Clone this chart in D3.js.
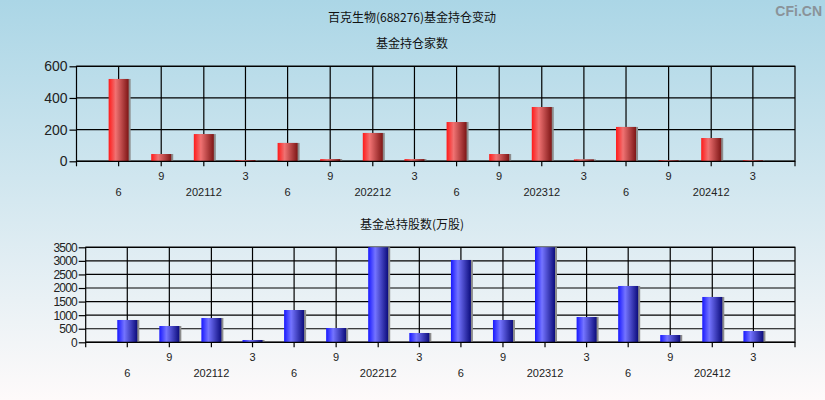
<!DOCTYPE html>
<html>
<head>
<meta charset="utf-8">
<script src="https://cdn.jsdelivr.net/npm/d3@7"></script>
<style>
  body { margin: 0; }
  text { font-family: "Liberation Sans", Arial, sans-serif; fill: #222; }
  .cn { font-family: "Noto Sans CJK SC", sans-serif; fill: #111; }
</style>
</head>
<body>
<script>
var svgWidth = 825;
var svgHeight = 400;

// quarter-end dates of the report periods
var quarters = ["2021-06-30", "2021-09-30", "2021-12-31", "2022-03-31",
                "2022-06-30", "2022-09-30", "2022-12-31", "2023-03-31",
                "2023-06-30", "2023-09-30", "2023-12-31", "2024-03-31",
                "2024-06-30", "2024-09-30", "2024-12-31", "2025-03-31"];
// 基金持仓家数
var fundCount = [520, 46, 172, 8, 116, 14, 179, 14, 248, 46, 343, 12, 217, 7, 147, 7];
// 基金总持股数(万股)
var fundShares = [822, 600, 895, 85, 1190, 527, 3600, 343, 3033, 822, 3600, 932, 2075, 269, 1670, 416];

var countTicks = [0, 200, 400, 600];
var shareTicks = [0, 500, 1000, 1500, 2000, 2500, 3000, 3500];

var parseDate = d3.timeParse("%Y-%m-%d");
var dates = quarters.map(parseDate);
var domain = [parseDate("2021-03-31"), parseDate("2025-06-30")];

var svg = d3.select("body")
  .append("svg")
  .attr("width", svgWidth)
  .attr("height", svgHeight);

var defs = svg.append("defs");

var bg = defs.append("linearGradient").attr("id", "bg")
  .attr("x1", 0).attr("y1", 0).attr("x2", 0).attr("y2", 1);
bg.append("stop").attr("offset", "0%").attr("stop-color", "#abd6e6");
bg.append("stop").attr("offset", "100%").attr("stop-color", "#fefafa");

function barGradient(id, c1, c2, c3) {
  var g = defs.append("linearGradient").attr("id", id)
    .attr("x1", 0).attr("y1", 0).attr("x2", 1).attr("y2", 0);
  g.append("stop").attr("offset", "0%").attr("stop-color", c1);
  g.append("stop").attr("offset", "35%").attr("stop-color", c2);
  g.append("stop").attr("offset", "100%").attr("stop-color", c3);
}
barGradient("redBar", "#ff1a1a", "#f07272", "#7e1616");
barGradient("blueBar", "#1818ff", "#7474ff", "#0c0c7c");

svg.append("rect")
  .attr("width", svgWidth)
  .attr("height", svgHeight)
  .attr("fill", "url(#bg)");

// titles
svg.append("text").attr("class", "cn")
  .attr("x", 412).attr("y", 22)
  .attr("text-anchor", "middle").attr("font-size", 12)
  .text("百克生物(688276)基金持仓变动");

svg.append("text")
  .attr("x", 822).attr("y", 16)
  .attr("text-anchor", "end")
  .attr("font-size", 14).attr("font-weight", "bold")
  .style("fill", "#8a9399")
  .text("CFi.CN");

function drawPanel(opts) {
  var x = d3.scaleTime().domain(domain).range([opts.left, 795]);
  var y = d3.scaleLinear().domain([0, opts.max]).range([opts.bottom, opts.top]);

  svg.append("text").attr("class", "cn")
    .attr("x", 412).attr("y", opts.top - 18)
    .attr("text-anchor", "middle").attr("font-size", 12)
    .text(opts.title);

  var g = svg.append("g");

  // horizontal grid
  g.selectAll(".hgrid")
    .data(opts.ticks)
    .enter()
    .append("line")
    .attr("x1", opts.left).attr("x2", 795)
    .attr("y1", d => y(d)).attr("y2", d => y(d))
    .attr("stroke", "#000").attr("stroke-width", 1.2);

  // vertical grid
  g.selectAll(".vgrid")
    .data(dates)
    .enter()
    .append("line")
    .attr("x1", d => x(d)).attr("x2", d => x(d))
    .attr("y1", opts.top).attr("y2", opts.bottom + 5)
    .attr("stroke", "#000").attr("stroke-width", 1.2);

  // frame
  g.append("rect")
    .attr("x", opts.left).attr("y", opts.top)
    .attr("width", 795 - opts.left).attr("height", opts.bottom - opts.top)
    .attr("fill", "none").attr("stroke", "#000").attr("stroke-width", 1.2);

  // edge ticks under the axis
  g.selectAll(".etick")
    .data(domain)
    .enter()
    .append("line")
    .attr("x1", d => x(d)).attr("x2", d => x(d))
    .attr("y1", opts.bottom).attr("y2", opts.bottom + 5)
    .attr("stroke", "#000").attr("stroke-width", 1.2);

  // y axis
  var leftAxis = d3.axisLeft(y).tickValues(opts.ticks)
    .tickFormat(d3.format("d")).tickSize(7).tickPadding(2);
  var ya = svg.append("g")
    .attr("transform", `translate(${opts.left}, 0)`)
    .call(leftAxis);
  ya.select(".domain").remove();
  ya.selectAll("line").attr("stroke", "#000").attr("stroke-width", 1.2);
  ya.selectAll("text")
    .attr("font-size", opts.yFont)
    .attr("letter-spacing", opts.ySpacing)
    .style("fill", "#222");

  var clipId = "clip" + opts.id;
  defs.append("clipPath").attr("id", clipId)
    .append("rect")
    .attr("x", opts.left).attr("y", opts.top)
    .attr("width", 795 - opts.left).attr("height", opts.bottom - opts.top);

  var bars = svg.append("g").attr("clip-path", `url(#${clipId})`);
  var bw = 20;

  // shadow
  bars.selectAll(".shadow")
    .data(opts.values)
    .enter()
    .append("rect")
    .attr("x", (d, i) => x(dates[i]) - bw / 2 + 2)
    .attr("y", d => y(d))
    .attr("width", bw)
    .attr("height", d => opts.bottom - y(d))
    .attr("fill", "#8c8c8c");

  bars.selectAll(".bar")
    .data(opts.values)
    .enter()
    .append("rect")
    .attr("x", (d, i) => x(dates[i]) - bw / 2)
    .attr("y", d => y(d))
    .attr("width", bw)
    .attr("height", d => opts.bottom - y(d))
    .attr("fill", opts.fill);

  // redraw baseline over bars
  svg.append("line")
    .attr("x1", opts.left).attr("x2", 795)
    .attr("y1", opts.bottom).attr("y2", opts.bottom)
    .attr("stroke", "#000").attr("stroke-width", 1.2);

  // x labels: Mar/Sep on first row, Jun/Dec on second row
  svg.selectAll(".xl" + opts.id)
    .data(dates)
    .enter()
    .append("text")
    .attr("x", d => x(d))
    .attr("y", d => (d.getMonth() === 2 || d.getMonth() === 8) ? opts.bottom + 19 : opts.bottom + 35)
    .attr("text-anchor", "middle")
    .attr("font-size", 11)
    .text(d => d.getMonth() === 11 ? d3.timeFormat("%Y%m")(d) : String(d.getMonth() + 1));
}

drawPanel({
  id: "a", title: "基金持仓家数", values: fundCount, ticks: countTicks,
  max: 600, left: 76.5, top: 66.3, bottom: 161.3, fill: "url(#redBar)",
  yFont: 14, ySpacing: 0
});

drawPanel({
  id: "b", title: "基金总持股数(万股)", values: fundShares, ticks: shareTicks,
  max: 3500, left: 85.7, top: 247.3, bottom: 342.3, fill: "url(#blueBar)",
  yFont: 12, ySpacing: -0.9
});
</script>
</body>
</html>
